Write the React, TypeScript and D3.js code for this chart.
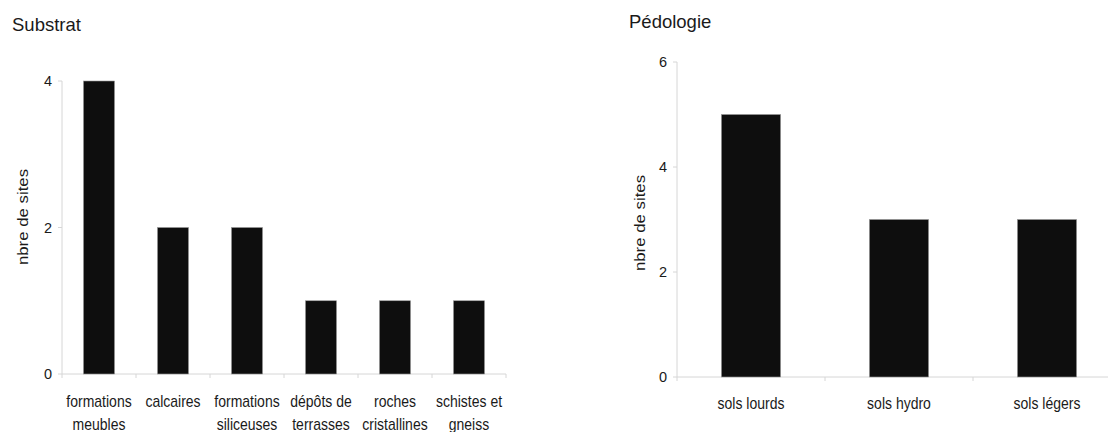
import React from "react";
import * as d3 from "d3";

const substratCategories = [
  ["formations", "meubles"],
  ["calcaires"],
  ["formations", "siliceuses"],
  ["dépôts de", "terrasses"],
  ["roches", "cristallines"],
  ["schistes et", "gneiss"],
];
const substratValues = [4, 2, 2, 1, 1, 1];
const substratTicks = [0, 2, 4];

const pedoCategories = [["sols lourds"], ["sols hydro"], ["sols légers"]];
const pedoValues = [5, 3, 3];
const pedoTicks = [0, 2, 4, 6];

const FONT = "'Liberation Sans', Arial, sans-serif";
const AXIS = "#d6d6d6";
const TXT = "#1a1a1a";

type PanelProps = {
  title: string;
  titleX: number;
  titleY: number;
  cats: string[][];
  values: number[];
  ticks: number[];
  x0: number;
  x1: number;
  yBottom: number;
  yTop: number;
  yMax: number;
  barFrac: number;
  labelX: number;
  labelCenterY: number;
  line1Y: number;
};

function Panel(p: PanelProps) {
  const keys = p.cats.map((c) => c.join(" "));
  const x = d3.scaleBand<string>().domain(keys).range([p.x0, p.x1]).padding(0);
  const y = d3.scaleLinear().domain([0, p.yMax]).range([p.yBottom, p.yTop]);
  const bw = x.bandwidth() * p.barFrac;
  const boundaries = keys.map((k) => x(k) as number).concat([p.x1]);
  return (
    <g>
      <text x={p.titleX} y={p.titleY} fontSize={18.5} fill={TXT} fontFamily={FONT}>
        {p.title}
      </text>
      {/* y axis */}
      <line x1={p.x0} x2={p.x0} y1={y(p.yMax)} y2={y(0)} stroke={AXIS} strokeWidth={1} />
      {p.ticks.map((t) => (
        <g key={t}>
          <line x1={p.x0 - 4} x2={p.x0} y1={y(t)} y2={y(t)} stroke={AXIS} />
          <text
            x={p.x0 - 10}
            y={y(t)}
            dy="0.36em"
            textAnchor="end"
            fontSize={14.5}
            fill={TXT}
            fontFamily={FONT}
          >
            {t}
          </text>
        </g>
      ))}
      {/* x axis */}
      <line x1={p.x0} x2={p.x1} y1={y(0)} y2={y(0)} stroke={AXIS} />
      {boundaries.map((b, i) => (
        <line key={i} x1={b} x2={b} y1={y(0)} y2={y(0) + 4} stroke={AXIS} />
      ))}
      {/* bars */}
      {keys.map((k, i) => {
        const cx = (x(k) as number) + x.bandwidth() / 2;
        return (
          <rect
            key={k}
            x={cx - bw / 2}
            y={y(p.values[i])}
            width={bw}
            height={y(0) - y(p.values[i])}
            fill="#0e0e0e"
            stroke="#9a9a9a"
            strokeWidth={0.6}
          />
        );
      })}
      {/* x labels */}
      {p.cats.map((lines, i) => {
        const cx = (x(keys[i]) as number) + x.bandwidth() / 2;
        return lines.map((ln, j) => (
          <g key={keys[i] + j} transform={`translate(${cx},${p.line1Y + j * 22.5}) scale(1,1.15)`}>
            <text x={0} y={0} textAnchor="middle" fontSize={14} fill={TXT} fontFamily={FONT}>
              {ln}
            </text>
          </g>
        ));
      })}
      {/* y label */}
      <g transform={`translate(${p.labelX},${p.labelCenterY}) rotate(-90) scale(1.2,1)`}>
        <text x={0} y={0} dy="0.35em" textAnchor="middle" fontSize={14} fill={TXT} fontFamily={FONT}>
          nbre de sites
        </text>
      </g>
    </g>
  );
}

export default function App() {
  return (
    <svg
      width={1108}
      height={432}
      style={{ position: "absolute", left: 0, top: 0, background: "#fff" }}
    >
      <rect x={0} y={0} width={1108} height={432} fill="#fff" />
      <Panel
        title="Substrat"
        titleX={12}
        titleY={31}
        cats={substratCategories}
        values={substratValues}
        ticks={substratTicks}
        x0={62}
        x1={506}
        yBottom={374}
        yTop={81}
        yMax={4}
        barFrac={0.42}
        labelX={23}
        labelCenterY={217}
        line1Y={407}
      />
      <Panel
        title="Pédologie"
        titleX={629}
        titleY={28}
        cats={pedoCategories}
        values={pedoValues}
        ticks={pedoTicks}
        x0={677}
        x1={1121}
        yBottom={377}
        yTop={62}
        yMax={6}
        barFrac={0.4}
        labelX={640}
        labelCenterY={223}
        line1Y={409}
      />
    </svg>
  );
}
